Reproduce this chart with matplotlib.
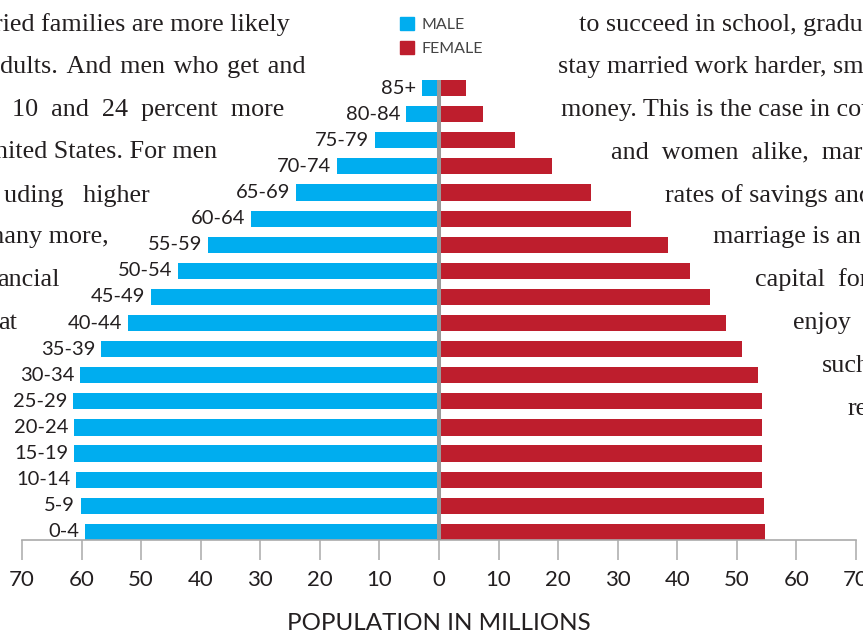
import matplotlib.pyplot as plt
from matplotlib.patches import Patch

ages = ['0-4', '5-9', '10-14', '15-19', '20-24', '25-29', '30-34', '35-39', '40-44',
        '45-49', '50-54', '55-59', '60-64', '65-69', '70-74', '75-79', '80-84', '85+']
male = [59.4, 60.1, 60.9, 61.2, 61.2, 61.4, 60.2, 56.7, 52.2,
        48.3, 43.8, 38.8, 31.5, 24.0, 17.1, 10.7, 5.5, 2.9]
female = [54.7, 54.5, 54.2, 54.2, 54.2, 54.2, 53.5, 50.8, 48.2,
          45.5, 42.1, 38.4, 32.2, 25.5, 19.0, 12.8, 7.4, 4.5]
ticks = [-70, -60, -50, -40, -30, -20, -10, 0, 10, 20, 30, 40, 50, 60, 70]

# background article text wrapped around the pyramid (only the visible part)
# justified lines: a hair space (U+200A) widens the gaps a little
left_lines = ['ried families are more likely',
              'dults. \u200aAnd \u200amen \u200awho \u200aget \u200aand',
              '10  and  24  percent  more', 'nited States. For men',
              'uding   higher', 'many more,', 'ancial', 'at']
right_lines = ['to succeed in school, gradu', 'stay married work harder, sm',
               'money. This is the case in cou', 'and  women  alike,  mar',
               'rates of savings and', 'marriage is an', 'capital  for', 'enjoy',
               'such', 're']

BLUE = '#00ADEF'
RED = '#BE1E2D'
SANS = 'Lato'
SERIF = ['Liberation Serif', 'DejaVu Serif']
W, H = 863, 633

fig = plt.figure(figsize=(W / 100, H / 100), dpi=100)
ax = fig.add_axes([22 / W, 93 / H, 834 / W, 465 / H])

y = list(range(len(ages)))
neg_male = [-v for v in male]
ax.barh(y, neg_male, height=0.62, color=BLUE, zorder=2)
ax.barh(y, female, height=0.62, color=RED, zorder=2)
ax.vlines(0, -0.31, len(ages) - 0.69, color='#999999', linewidth=2.9, zorder=3)

for yi, lab, v in zip(y, ages, neg_male):
    ax.text(v - 1.0, yi, lab, ha='right', va='center', fontsize=14.5,
            family=SANS, color='#231f20')

ax.set_xlim(-70, 70)
ax.set_ylim(-0.31, 17.5)
ax.set_xticks(ticks)
ax.set_xticklabels([str(abs(t)) for t in ticks], family=SANS, fontsize=16, color='#231f20')
ax.set_yticks([])
for s in ['top', 'left', 'right']:
    ax.spines[s].set_visible(False)
ax.spines['bottom'].set_color('#aaaaaa')
ax.spines['bottom'].set_linewidth(1.2)
ax.tick_params(axis='x', direction='out', length=14.4, width=1.1, color='#aaaaaa', pad=7)
ax.set_xlabel('POPULATION IN MILLIONS', family=SANS, fontsize=17.4, color='#231f20',
              labelpad=17)

handles = [Patch(color=BLUE, label='MALE'), Patch(color=RED, label='FEMALE')]
leg = fig.legend(handles=handles, loc='upper left', bbox_to_anchor=(394 / W, 1 - 11 / H),
                 frameon=False, fontsize=11.5, handlelength=0.85, handleheight=0.85,
                 handletextpad=0.45, labelspacing=0.55, borderaxespad=0)
for t in leg.get_texts():
    t.set_family(SANS)
    t.set_color('#444444')

left_x = [290, 305, 284, 217, 150, 109, 60, 17]
right_x = [579, 558, 561, 611, 665, 713, 755, 793, 822, 848]
baselines = [31, 73, 116, 158, 202, 243, 286, 329, 372, 415]
for txt, xe, yb in zip(left_lines, left_x, baselines):
    fig.text(xe / W, 1 - yb / H, txt, ha='right', va='baseline', fontsize=18.8,
             family=SERIF, color='#231f20')
for txt, xs, yb in zip(right_lines, right_x, baselines):
    fig.text(xs / W, 1 - yb / H, txt, ha='left', va='baseline', fontsize=18.8,
             family=SERIF, color='#231f20')

fig.savefig('out.png', dpi=100)
